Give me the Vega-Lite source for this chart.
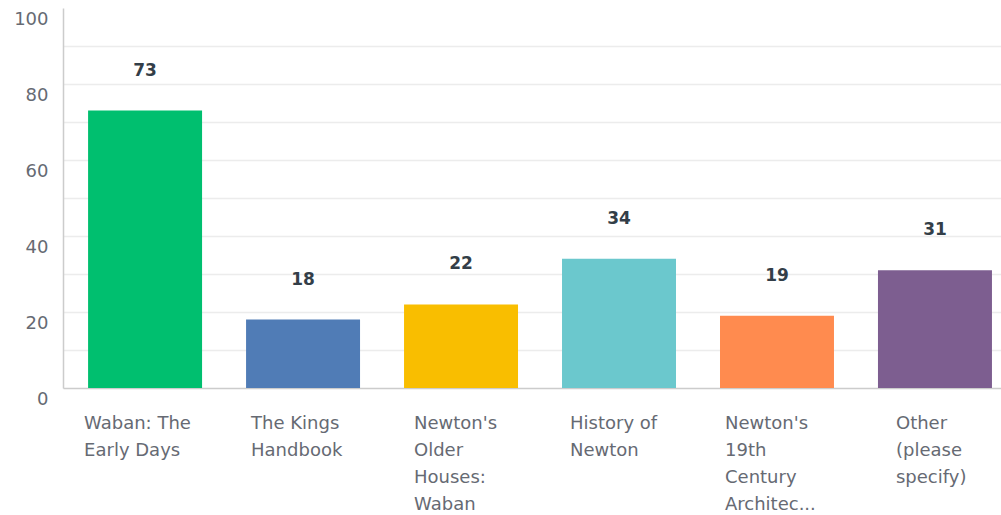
{
  "$schema": "https://vega.github.io/schema/vega-lite/v6.json",
  "autosize": {"type": "none"},
  "padding": {"left": 63, "top": 8, "right": 0, "bottom": 127},
  "width": 938,
  "height": 380,
  "background": "white",
  "data": {"values": [
    {"answer": "Waban: The Early Days", "count": 73},
    {"answer": "The Kings Handbook", "count": 18},
    {"answer": "Newton's Older Houses: Waban", "count": 22},
    {"answer": "History of Newton", "count": 34},
    {"answer": "Newton's 19th Century Architec...", "count": 19},
    {"answer": "Other (please specify)", "count": 31}
  ]},
  "config": {
    "view": {"stroke": null},
    "font": "DejaVu Sans"
  },
  "encoding": {
    "x": {
      "field": "answer", "type": "nominal", "sort": null,
      "scale": {"paddingInner": 0.2785, "paddingOuter": 0.108, "align": 0.735},
      "axis": {
        "title": null, "labelAngle": 0, "ticks": false,
        "domainColor": "#cccccc", "domainWidth": 1.5,
        "labelAlign": "left", "labelBaseline": "top",
        "labelOffset": {"condition": [
          {"test": "datum.value == 'Waban: The Early Days'", "value": -61},
          {"test": "datum.value == 'The Kings Handbook'", "value": -52},
          {"test": "datum.value == 'Newton\\'s Older Houses: Waban'", "value": -47},
          {"test": "datum.value == 'History of Newton'", "value": -49},
          {"test": "datum.value == 'Newton\\'s 19th Century Architec...'", "value": -52}
        ], "value": -39},
        "labelPadding": 26, "labelFontSize": 18, "labelColor": "#666a73",
        "labelLineHeight": 27, "labelLimit": 200,
        "labelExpr": "{'Waban: The Early Days': ['Waban: The', 'Early Days'], 'The Kings Handbook': ['The Kings', 'Handbook'], 'Newton\\'s Older Houses: Waban': ['Newton\\'s', 'Older', 'Houses:', 'Waban'], 'History of Newton': ['History of', 'Newton'], 'Newton\\'s 19th Century Architec...': ['Newton\\'s', '19th', 'Century', 'Architec...'], 'Other (please specify)': ['Other', '(please', 'specify)']}[datum.label]"
      }
    },
    "y": {
      "field": "count", "type": "quantitative",
      "scale": {"domain": [0, 100], "nice": false},
      "axis": {
        "title": null, "ticks": false,
        "values": [0, 10, 20, 30, 40, 50, 60, 70, 80, 90, 100],
        "labelExpr": "datum.value % 20 == 0 ? datum.label : ''",
        "domainColor": "#cccccc", "domainWidth": 1.5,
        "gridColor": "#ececec", "gridWidth": 1.5,
        "gridOpacity": {"condition": {"test": "datum.value == 100 || datum.value == 0", "value": 0}, "value": 1},
        "labelBaseline": "top", "labelOffset": 2, "labelPadding": 15,
        "labelFontSize": 18, "labelColor": "#666a73", "labelFlush": false
      }
    }
  },
  "layer": [
    {
      "mark": {"type": "bar"},
      "encoding": {
        "color": {
          "field": "answer", "type": "nominal", "sort": null, "legend": null,
          "scale": {
            "domain": ["Waban: The Early Days", "The Kings Handbook", "Newton's Older Houses: Waban", "History of Newton", "Newton's 19th Century Architec...", "Other (please specify)"],
            "range": ["#00bf6f", "#507cb6", "#f9be00", "#6bc8cd", "#ff8b4f", "#7d5e90"]
          }
        }
      }
    },
    {
      "mark": {"type": "text", "dy": -40, "baseline": "middle", "fontSize": 17, "fontWeight": "bold", "color": "#333e48"},
      "encoding": {"text": {"field": "count", "type": "quantitative"}}
    }
  ]
}
